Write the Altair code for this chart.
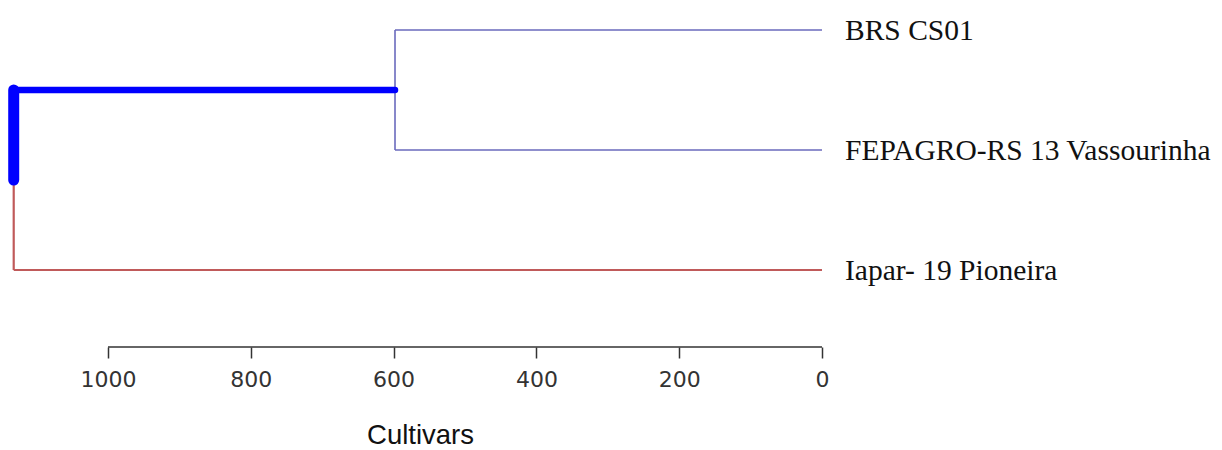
import altair as alt
import pandas as pd

# Leaves (top to bottom) and merge heights
leaves = ["BRS CS01", "FEPAGRO-RS 13 Vassourinha", "Iapar- 19 Pioneira"]
leaf_pos = [1, 2, 3]
merge1_height = 598     # BRS CS01 + FEPAGRO-RS 13 Vassourinha
root_height = 1132      # (cluster) + Iapar- 19 Pioneira
tick_values = [0, 200, 400, 600, 800, 1000]

THIN_BLUE = "#6a6abd"
RED = "#c05a5a"
BLUE = "#0000ff"

m1_y = (leaf_pos[0] + leaf_pos[1]) / 2
root_y = (m1_y + leaf_pos[2]) / 2

segments = pd.DataFrame([
    # leaf branches
    dict(x=merge1_height, x2=0, y=leaf_pos[0], y2=leaf_pos[0], c=THIN_BLUE, w=1.6),
    dict(x=merge1_height, x2=0, y=leaf_pos[1], y2=leaf_pos[1], c=THIN_BLUE, w=1.6),
    dict(x=merge1_height, x2=merge1_height, y=leaf_pos[0], y2=leaf_pos[1], c=THIN_BLUE, w=1.6),
    dict(x=root_height, x2=0, y=leaf_pos[2], y2=leaf_pos[2], c=RED, w=1.8),
    dict(x=root_height, x2=root_height, y=root_y, y2=leaf_pos[2], c=RED, w=2.2),
])
thick = pd.DataFrame([
    dict(x=root_height, x2=merge1_height, y=m1_y, y2=m1_y, c=BLUE, w=6.5),
    dict(x=root_height, x2=root_height, y=m1_y, y2=root_y, c=BLUE, w=11),
])
labels = pd.DataFrame({"label": leaves, "y": leaf_pos, "x": [0, 0, 0]})
axis_df = pd.DataFrame({"x": [min(tick_values)], "x2": [max(tick_values)]})

W, H = 1206, 339
xscale = alt.Scale(domain=[-549, 1140], reverse=True, nice=False, zero=False)
yscale = alt.Scale(domain=[0.8167, 3.6417], reverse=True, nice=False, zero=False)

xaxis = alt.Axis(
    values=tick_values, domain=False, grid=False,
    tickColor="#333333", tickSize=11, tickWidth=1.5,
    labelFont="DejaVu Sans", labelFontSize=22, labelColor="#333333",
    labelPadding=11, format="d",
    title="Cultivars", titleFont="Liberation Sans", titleFontSize=27.5,
    titleFontWeight="normal", titleColor="#111111",
    titleX=412, titleY=96, titleBaseline="alphabetic", titleAlign="center",
)

thin_layer = alt.Chart(segments).mark_rule(strokeCap="butt").encode(
    x=alt.X("x:Q", scale=xscale, axis=xaxis),
    x2="x2:Q",
    y=alt.Y("y:Q", scale=yscale, axis=None),
    y2="y2:Q",
    color=alt.Color("c:N", scale=None),
    strokeWidth=alt.StrokeWidth("w:Q", scale=None),
)

thick_layer = alt.Chart(thick).mark_rule(strokeCap="round").encode(
    x=alt.X("x:Q", scale=xscale),
    x2="x2:Q",
    y=alt.Y("y:Q", scale=yscale),
    y2="y2:Q",
    color=alt.Color("c:N", scale=None),
    strokeWidth=alt.StrokeWidth("w:Q", scale=None),
)

text_layer = alt.Chart(labels).mark_text(
    align="left", baseline="middle", dx=23, dy=1,
    font="Liberation Serif", fontSize=29.5, color="#111111",
).encode(
    x=alt.X("x:Q", scale=xscale),
    y=alt.Y("y:Q", scale=yscale),
    text="label:N",
)

axis_line = alt.Chart(axis_df).mark_rule(color="#333333", strokeWidth=1.5).encode(
    x=alt.X("x:Q", scale=xscale),
    x2="x2:Q",
    y=alt.value(H),
)

chart = alt.layer(thin_layer, thick_layer, text_layer, axis_line).properties(
    width=W, height=H,
    autosize=alt.AutoSizeParams(type="none"),
    padding={"left": 0, "top": 0, "right": 0, "bottom": 103},
).configure_view(stroke=None)

chart.save("out.html", embed_options={"renderer": "svg", "actions": False})
